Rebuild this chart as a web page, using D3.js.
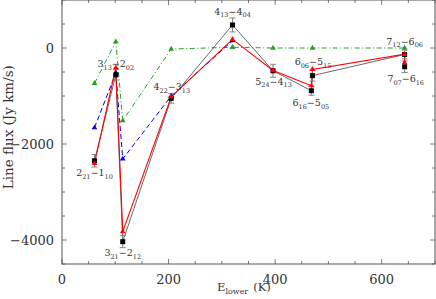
<!DOCTYPE html>
<html>
<head>
<meta charset="utf-8">
<script src="https://cdn.jsdelivr.net/npm/d3@7"></script>
<style>
  html, body { margin: 0; padding: 0; background: #fff; }
  text { font-family: 'DejaVu Serif', serif; fill: #333; }
</style>
</head>
<body>
<svg class="canvas" width="436" height="299"></svg>
<script>
'use strict';

// Transitions in plotting order (upper, lower) and E_lower of each
const transitions = [
  ['2', '21', '1', '10'], ['3', '13', '2', '02'], ['3', '21', '2', '12'],
  ['4', '22', '3', '13'], ['4', '13', '4', '04'], ['5', '24', '4', '13'],
  ['6', '16', '5', '05'], ['6', '06', '5', '15'], ['7', '12', '6', '06'],
  ['7', '07', '6', '16']
];
const eLower = [61, 101, 114, 205, 320, 396, 468, 470, 643, 643];

// observed fluxes with errors (black)
const observed = [-2350, -560, -4035, -1050, 480, -475, -890, -576, -135, -390];
const obsError = [130, 110, 125, 100, 145, 135, 95, 115, 90, 120];
// red model
const modelRed = [-2405, -410, -3825, -1015, 180, -470, -785, -445, -130, -305];
// blue model (first five lines)
const blueX = [61, 101, 114, 205, 320];
const modelBlue = [-1660, -520, -2312, -1000, 152];
// green model
const greenX = [61, 101, 114, 205, 320, 396, 470, 643];
const modelGreen = [-736, 131, -1514, -21, 15, 0, 0, 0];

// label anchor points (data units, baseline of the main characters)
const labelX = [61, 101, 114, 206, 320, 397, 467, 471, 643, 645];
const labelY = [-2670, -400, -4335, -875, 690, -770, -1210, -355, 65, -710];

const xTicks = [0, 200, 400, 600];
const yTicks = [-4000, -2000, 0];

const svg = d3.select('.canvas'),
  margin = { left: 62, right: 1, top: 0, bottom: 35 },
  width = +svg.attr('width') - margin.left - margin.right,
  height = +svg.attr('height') - margin.top - margin.bottom;

const x = d3.scaleLinear().domain([0, 700]).range([0, width]);
const y = d3.scaleLinear().domain([-4500, 1000]).range([height, 0]);

const g = svg.append('g').attr('transform', `translate(${margin.left},${margin.top})`);

// axes: major + minor ticks on all four sides
function tickAxes() {
  const axisColor = '#555';
  const xMinor = d3.range(0, 701, 50), yMinor = d3.range(-4500, 1001, 500);
  const drawTicks = (vals, isX, major) => {
    const len = major ? 5 : 3;
    vals.forEach(v => {
      if (isX) {
        const px = x(v);
        g.append('line').attr('x1', px).attr('x2', px).attr('y1', height).attr('y2', height - len);
        g.append('line').attr('x1', px).attr('x2', px).attr('y1', 0).attr('y2', len);
      } else {
        const py = y(v);
        g.append('line').attr('x1', 0).attr('x2', len).attr('y1', py).attr('y2', py);
        g.append('line').attr('x1', width).attr('x2', width - len).attr('y1', py).attr('y2', py);
      }
    });
  };
  drawTicks(xMinor.filter(v => v % 200 !== 0), true, false);
  drawTicks(xTicks, true, true);
  drawTicks(yMinor.filter(v => v % 2000 !== 0), false, false);
  drawTicks(yTicks, false, true);
  g.selectAll('line').attr('stroke', axisColor).attr('stroke-width', 0.8);
  g.append('rect')
    .attr('x', 0).attr('y', 0).attr('width', width).attr('height', height)
    .attr('fill', 'none').attr('stroke', axisColor).attr('stroke-width', 1);
}
tickAxes();

g.selectAll('.xlab').data(xTicks).enter().append('text')
  .attr('x', d => x(d)).attr('y', height + 20)
  .attr('text-anchor', 'middle').style('font-size', '13px')
  .text(d => d);
g.selectAll('.ylab').data(yTicks).enter().append('text')
  .attr('x', -8).attr('y', d => y(d) + 5)
  .attr('text-anchor', 'end').style('font-size', '13px')
  .text(d => (d < 0 ? '\u2212' + Math.abs(d) : d));

// axis titles
const xt = svg.append('text').attr('x', 217).attr('y', 291).style('font-size', '11.5px');
xt.append('tspan').text('E');
xt.append('tspan').attr('dy', 2.5).style('font-size', '8px').text('lower');
xt.append('tspan').attr('dy', -2.5).attr('dx', 5).text('(K)');

svg.append('text')
  .attr('transform', `translate(13,${margin.top + y(-1650)}) rotate(-90)`)
  .attr('text-anchor', 'middle').style('font-size', '13.5px')
  .text('Line flux (Jy km/s)');

// series lines
const line = d3.line().x(d => x(d[0])).y(d => y(d[1]));
const zip = (a, b) => a.map((v, i) => [v, b[i]]);

g.append('path').datum(zip(greenX, modelGreen)).attr('d', line)
  .attr('fill', 'none').attr('stroke', '#22a022').attr('stroke-width', 1)
  .attr('stroke-dasharray', '5,2.5,1,2.5');
g.append('path').datum(zip(blueX, modelBlue)).attr('d', line)
  .attr('fill', 'none').attr('stroke', '#0000ff').attr('stroke-width', 1)
  .attr('stroke-dasharray', '5,3');
g.append('path').datum(zip(eLower, observed)).attr('d', line)
  .attr('fill', 'none').attr('stroke', '#444').attr('stroke-width', 0.8);
g.append('path').datum(zip(eLower, modelRed)).attr('d', line)
  .attr('fill', 'none').attr('stroke', '#ff0000').attr('stroke-width', 1.1);

// error bars
const eb = g.selectAll('.err').data(zip(eLower, observed)).enter().append('g')
  .attr('stroke', '#777').attr('stroke-width', 0.9);
eb.append('line')
  .attr('x1', d => x(d[0])).attr('x2', d => x(d[0]))
  .attr('y1', (d, i) => y(d[1] - obsError[i])).attr('y2', (d, i) => y(d[1] + obsError[i]));
eb.append('line')
  .attr('x1', d => x(d[0]) - 3).attr('x2', d => x(d[0]) + 3)
  .attr('y1', (d, i) => y(d[1] - obsError[i])).attr('y2', (d, i) => y(d[1] - obsError[i]));
eb.append('line')
  .attr('x1', d => x(d[0]) - 3).attr('x2', d => x(d[0]) + 3)
  .attr('y1', (d, i) => y(d[1] + obsError[i])).attr('y2', (d, i) => y(d[1] + obsError[i]));

// markers
const tri = d3.symbol().type(d3.symbolTriangle).size(14);
function triangles(xs, ys, color) {
  g.selectAll(null).data(zip(xs, ys)).enter().append('path')
    .attr('d', tri)
    .attr('transform', d => `translate(${x(d[0])},${y(d[1])})`)
    .attr('fill', color);
}
triangles(greenX, modelGreen, '#22a022');
triangles(blueX, modelBlue, '#0000ff');
g.selectAll('.obs').data(zip(eLower, observed)).enter().append('rect')
  .attr('x', d => x(d[0]) - 2.5).attr('y', d => y(d[1]) - 2.5)
  .attr('width', 5).attr('height', 5).attr('fill', '#000');
triangles(eLower, modelRed, '#ff0000');

// transition labels
transitions.forEach((t, i) => {
  const lab = g.append('text')
    .attr('x', x(labelX[i])).attr('y', y(labelY[i]))
    .attr('text-anchor', 'middle').style('font-size', '9.5px');
  lab.append('tspan').text(t[0]);
  lab.append('tspan').attr('dy', 2.5).style('font-size', '6.5px').text(t[1]);
  lab.append('tspan').attr('dy', -2.5).text('\u2212' + t[2]);
  lab.append('tspan').attr('dy', 2.5).style('font-size', '6.5px').text(t[3]);
});
</script>
</body>
</html>
